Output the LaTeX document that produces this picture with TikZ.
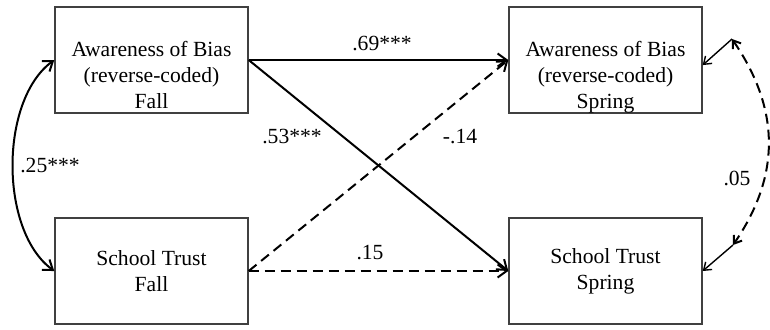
\documentclass[tikz,border=0pt]{standalone}
\usepackage{fontspec}
\setmainfont{Liberation Serif}
\usetikzlibrary{arrows.meta}
\tikzset{
  var/.style={draw=black!75, line width=0.7pt, align=center, font=\fontsize{10.8}{13}\selectfont,
              minimum width=96.5pt, minimum height=53pt, inner sep=0pt},
  var3/.style={var, text height=48pt, text depth=0pt},
  est/.style={font=\fontsize{10.8}{13}\selectfont, inner sep=1pt},
  sig/.style={-{Straight Barb[length=4.5pt,width=6.5pt]}, line width=1pt},
  nonsig/.style={-{Straight Barb[length=4.5pt,width=6.5pt]}, line width=1pt, dash pattern=on 5pt off 3pt},
  stub/.style={-{Straight Barb[length=3.5pt,width=5pt]}, line width=0.7pt},
}
\begin{document}
\begin{tikzpicture}[x=0.5pt, y=0.5pt]
  \useasboundingbox (0,0) rectangle (770,329);
  \node[var3] (afall)   at (151.5,269) {Awareness of Bias\\(reverse-coded)\\Fall};
  \node[var]  (tfall)   at (151.5,58)  {School Trust\\Fall};
  \node[var3] (aspring) at (605.5,269) {Awareness of Bias\\(reverse-coded)\\Spring};
  \node[var]  (tspring) at (605.5,58)  {School Trust\\Spring};
  \coordinate (rtop) at (732,290);
  \coordinate (rbot) at (733,84);
  % paths
  \draw[sig]    (afall.east) -- (aspring.west);
  \draw[sig]    (afall.east) -- (tspring.west);
  \draw[nonsig] (tfall.east) -- (aspring.west);
  \draw[nonsig] (tfall.east) -- (tspring.west);
  % covariances
  \draw[sig, {Straight Barb[length=4.5pt,width=6.5pt]}-{Straight Barb[length=4.5pt,width=6.5pt]}]
    (afall.west) .. controls +(-55,-40) and +(-55,40) .. (tfall.west);
  \draw[nonsig, {Straight Barb[length=3.5pt,width=5pt]}-{Straight Barb[length=3.5pt,width=5pt]}]
    (rtop) .. controls +(48,-70) and +(48,70) .. (rbot);
  \draw[stub] (rtop) -- (aspring.-3);
  \draw[stub] (rbot) -- (tspring.east);
  % estimates
  \node[est] (e69) at (382,286) {.69***};
  \node[est] (e53) at (292,193) {.53***};
  \node[est] (e14) at (460,192) {-.14};
  \node[est] (e15) at (370,76)  {.15};
  \node[est] (e25) at (50,164)  {.25***};
  \node[est] (e05) at (737,151) {.05};
\end{tikzpicture}
\end{document}
